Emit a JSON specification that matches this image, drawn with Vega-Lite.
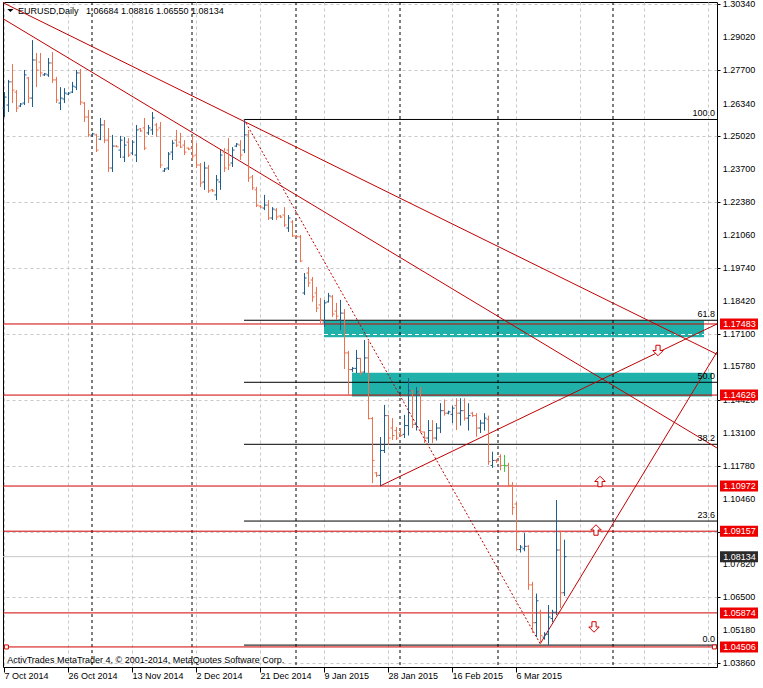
{
"$schema": "https://vega.github.io/schema/vega-lite/v6.json",
"width": 714, "height": 665,
"autosize": {"type": "none"},
"padding": {"left": 3, "top": 2, "right": 46, "bottom": 21},
"background": "white",
"config": {"view": {"stroke": "#000", "strokeWidth": 1}, "font": "Liberation Sans", "axis": {"labelOverlap": false, "labelSeparation": 0}},
"datasets": {
"one": [{}],
"yticks": [{"v":1.3034},{"v":1.2902},{"v":1.277},{"v":1.2634},{"v":1.2502},{"v":1.237},{"v":1.2238},{"v":1.2106},{"v":1.1974},{"v":1.1842},{"v":1.171},{"v":1.1578},{"v":1.1442},{"v":1.131},{"v":1.1178},{"v":1.1046},{"v":1.0914},{"v":1.0782},{"v":1.065},{"v":1.0518},{"v":1.0386}],
"zones": [{"x1": 80, "x2": 175, "p1": 1.17615, "p2": 1.16948}, {"x1": 87, "x2": 177, "p1": 1.15525, "p2": 1.14569}],
"seps": [{"i": 22}, {"i": 47}, {"i": 73}, {"i": 99}, {"i": 123.5}, {"i": 152.25}],
"levels": [{"p": 1.17483}, {"p": 1.14626}, {"p": 1.10972}, {"p": 1.09157}, {"p": 1.05874}, {"p": 1.04506}],
"fib": [{"lvl": "100.0", "p": 1.2570}, {"lvl": "61.8", "p": 1.17632}, {"lvl": "50.0", "p": 1.1514}, {"lvl": "38.2", "p": 1.12648}, {"lvl": "23.6", "p": 1.09564}, {"lvl": "0.0", "p": 1.0458}],
"trend": [{"i1": -0.25, "p1": 1.30392, "i2": 178.25, "p2": 1.16265}, {"i1": -0.25, "p1": 1.29749, "i2": 178.25, "p2": 1.12500}, {"i1": 94, "p1": 1.10972, "i2": 178.25, "p2": 1.17483}, {"i1": 134, "p1": 1.0462, "i2": 178.25, "p2": 1.1636}],
"arrows": [{"i": 149, "p": 1.11154, "d": "up"}, {"i": 148, "p": 1.09205, "d": "up"}, {"i": 163.5, "p": 1.16417, "d": "down"}, {"i": 147.5, "p": 1.05308, "d": "down"}],
"ends": [{"i": 0.6}, {"i": 177.6}],
"bars": [
{"i":0,"o":1.2616,"h":1.2680,"l":1.2580,"c":1.2660},
{"i":1,"o":1.2628,"h":1.2729,"l":1.2600,"c":1.2721},
{"i":2,"o":1.2721,"h":1.2793,"l":1.2636,"c":1.2688},
{"i":3,"o":1.2680,"h":1.2688,"l":1.2600,"c":1.2616},
{"i":4,"o":1.2624,"h":1.2636,"l":1.2620,"c":1.2632},
{"i":5,"o":1.2636,"h":1.2769,"l":1.2628,"c":1.2749},
{"i":6,"o":1.2737,"h":1.2741,"l":1.2636,"c":1.2656},
{"i":7,"o":1.2656,"h":1.2889,"l":1.2620,"c":1.2809},
{"i":8,"o":1.2809,"h":1.2837,"l":1.2700,"c":1.2769},
{"i":9,"o":1.2801,"h":1.2837,"l":1.2741,"c":1.2757},
{"i":10,"o":1.2749,"h":1.2757,"l":1.2745,"c":1.2753},
{"i":11,"o":1.2749,"h":1.2817,"l":1.2741,"c":1.2797},
{"i":12,"o":1.2797,"h":1.2841,"l":1.2717,"c":1.2729},
{"i":13,"o":1.2729,"h":1.2741,"l":1.2636,"c":1.2648},
{"i":14,"o":1.2636,"h":1.2700,"l":1.2608,"c":1.2656},
{"i":15,"o":1.2652,"h":1.2696,"l":1.2636,"c":1.2676},
{"i":16,"o":1.2672,"h":1.2680,"l":1.2668,"c":1.2676},
{"i":17,"o":1.2680,"h":1.2721,"l":1.2676,"c":1.2704},
{"i":18,"o":1.2700,"h":1.2769,"l":1.2688,"c":1.2757},
{"i":19,"o":1.2757,"h":1.2773,"l":1.2628,"c":1.2640},
{"i":20,"o":1.2636,"h":1.2640,"l":1.2560,"c":1.2580},
{"i":21,"o":1.2580,"h":1.2608,"l":1.2500,"c":1.2508},
{"i":22,"o":1.2504,"h":1.2516,"l":1.2500,"c":1.2512},
{"i":23,"o":1.2508,"h":1.2512,"l":1.2439,"c":1.2447},
{"i":24,"o":1.2491,"h":1.2576,"l":1.2487,"c":1.2548},
{"i":25,"o":1.2548,"h":1.2568,"l":1.2475,"c":1.2487},
{"i":26,"o":1.2487,"h":1.2536,"l":1.2359,"c":1.2375},
{"i":27,"o":1.2375,"h":1.2508,"l":1.2359,"c":1.2463},
{"i":28,"o":1.2463,"h":1.2467,"l":1.2459,"c":1.2460},
{"i":29,"o":1.2447,"h":1.2504,"l":1.2415,"c":1.2487},
{"i":30,"o":1.2419,"h":1.2500,"l":1.2399,"c":1.2467},
{"i":31,"o":1.2479,"h":1.2495,"l":1.2419,"c":1.2427},
{"i":32,"o":1.2435,"h":1.2487,"l":1.2427,"c":1.2479},
{"i":33,"o":1.2427,"h":1.2548,"l":1.2399,"c":1.2528},
{"i":34,"o":1.2532,"h":1.2536,"l":1.2520,"c":1.2524},
{"i":35,"o":1.2536,"h":1.2576,"l":1.2447,"c":1.2455},
{"i":36,"o":1.2516,"h":1.2548,"l":1.2508,"c":1.2536},
{"i":37,"o":1.2528,"h":1.2600,"l":1.2508,"c":1.2576},
{"i":38,"o":1.2548,"h":1.2556,"l":1.2500,"c":1.2528},
{"i":39,"o":1.2536,"h":1.2560,"l":1.2375,"c":1.2387},
{"i":40,"o":1.2363,"h":1.2375,"l":1.2359,"c":1.2371},
{"i":41,"o":1.2375,"h":1.2439,"l":1.2367,"c":1.2431},
{"i":42,"o":1.2439,"h":1.2487,"l":1.2407,"c":1.2475},
{"i":43,"o":1.2487,"h":1.2528,"l":1.2459,"c":1.2467},
{"i":44,"o":1.2479,"h":1.2516,"l":1.2455,"c":1.2459},
{"i":45,"o":1.2467,"h":1.2487,"l":1.2427,"c":1.2439},
{"i":46,"o":1.2455,"h":1.2457,"l":1.2447,"c":1.2451},
{"i":47,"o":1.2455,"h":1.2508,"l":1.2407,"c":1.2423},
{"i":48,"o":1.2427,"h":1.2475,"l":1.2375,"c":1.2387},
{"i":49,"o":1.2387,"h":1.2395,"l":1.2299,"c":1.2315},
{"i":50,"o":1.2319,"h":1.2400,"l":1.2287,"c":1.2375},
{"i":51,"o":1.2375,"h":1.2387,"l":1.2275,"c":1.2283},
{"i":52,"o":1.2287,"h":1.2291,"l":1.2279,"c":1.2283},
{"i":53,"o":1.2267,"h":1.2347,"l":1.2246,"c":1.2327},
{"i":54,"o":1.2319,"h":1.2447,"l":1.2287,"c":1.2427},
{"i":55,"o":1.2439,"h":1.2455,"l":1.2359,"c":1.2375},
{"i":56,"o":1.2447,"h":1.2495,"l":1.2367,"c":1.2387},
{"i":57,"o":1.2395,"h":1.2459,"l":1.2379,"c":1.2447},
{"i":58,"o":1.2463,"h":1.2475,"l":1.2459,"c":1.2471},
{"i":59,"o":1.2467,"h":1.2487,"l":1.2407,"c":1.2427},
{"i":60,"o":1.2447,"h":1.2570,"l":1.2435,"c":1.2508},
{"i":61,"o":1.2508,"h":1.2528,"l":1.2319,"c":1.2335},
{"i":62,"o":1.2339,"h":1.2347,"l":1.2287,"c":1.2295},
{"i":63,"o":1.2287,"h":1.2299,"l":1.2218,"c":1.2226},
{"i":64,"o":1.2222,"h":1.2226,"l":1.2214,"c":1.2218},
{"i":65,"o":1.2214,"h":1.2267,"l":1.2206,"c":1.2226},
{"i":66,"o":1.2226,"h":1.2246,"l":1.2166,"c":1.2174},
{"i":67,"o":1.2174,"h":1.2218,"l":1.2166,"c":1.2210},
{"i":68,"o":1.2206,"h":1.2214,"l":1.2166,"c":1.2178},
{"i":69,"o":1.2182,"h":1.2186,"l":1.2174,"c":1.2178},
{"i":70,"o":1.2186,"h":1.2218,"l":1.2138,"c":1.2146},
{"i":71,"o":1.2134,"h":1.2186,"l":1.2118,"c":1.2174},
{"i":72,"o":1.2158,"h":1.2166,"l":1.2098,"c":1.2102},
{"i":73,"o":1.2102,"h":1.2106,"l":1.2097,"c":1.2099},
{"i":74,"o":1.2098,"h":1.2106,"l":1.1997,"c":1.2001},
{"i":75,"o":1.1873,"h":1.1953,"l":1.1865,"c":1.1933},
{"i":76,"o":1.1953,"h":1.1977,"l":1.1897,"c":1.1913},
{"i":77,"o":1.1925,"h":1.1937,"l":1.1837,"c":1.1857},
{"i":78,"o":1.1873,"h":1.1897,"l":1.1796,"c":1.1812},
{"i":79,"o":1.1825,"h":1.1853,"l":1.1752,"c":1.1764},
{"i":80,"o":1.1756,"h":1.1845,"l":1.1736,"c":1.1833},
{"i":81,"o":1.1837,"h":1.1873,"l":1.1835,"c":1.1861},
{"i":82,"o":1.1857,"h":1.1865,"l":1.1776,"c":1.1788},
{"i":83,"o":1.1800,"h":1.1833,"l":1.1764,"c":1.1780},
{"i":84,"o":1.1764,"h":1.1845,"l":1.1724,"c":1.1792},
{"i":85,"o":1.1792,"h":1.1808,"l":1.1567,"c":1.1632},
{"i":86,"o":1.1632,"h":1.1640,"l":1.1460,"c":1.1565},
{"i":87,"o":1.1565,"h":1.1575,"l":1.1555,"c":1.1570},
{"i":88,"o":1.1570,"h":1.1644,"l":1.1551,"c":1.1610},
{"i":89,"o":1.1610,"h":1.1612,"l":1.1543,"c":1.1555},
{"i":90,"o":1.1555,"h":1.1684,"l":1.1551,"c":1.1612},
{"i":91,"o":1.1612,"h":1.1680,"l":1.1365,"c":1.1368},
{"i":92,"o":1.1368,"h":1.1375,"l":1.1109,"c":1.1200},
{"i":93,"o":1.1150,"h":1.1154,"l":1.1133,"c":1.1140},
{"i":94,"o":1.1140,"h":1.1294,"l":1.1098,"c":1.1240},
{"i":95,"o":1.1240,"h":1.1423,"l":1.1230,"c":1.1380},
{"i":96,"o":1.1380,"h":1.1383,"l":1.1262,"c":1.1290},
{"i":97,"o":1.1330,"h":1.1370,"l":1.1282,"c":1.1300},
{"i":98,"o":1.1320,"h":1.1334,"l":1.1282,"c":1.1290},
{"i":99,"o":1.1310,"h":1.1330,"l":1.1294,"c":1.1300},
{"i":100,"o":1.1305,"h":1.1383,"l":1.1290,"c":1.1340},
{"i":101,"o":1.1340,"h":1.1531,"l":1.1300,"c":1.1480},
{"i":102,"o":1.1480,"h":1.1483,"l":1.1330,"c":1.1345},
{"i":103,"o":1.1345,"h":1.1495,"l":1.1320,"c":1.1475},
{"i":104,"o":1.1475,"h":1.1495,"l":1.1310,"c":1.1315},
{"i":105,"o":1.1314,"h":1.1316,"l":1.1270,"c":1.1290},
{"i":106,"o":1.1290,"h":1.1362,"l":1.1270,"c":1.1320},
{"i":107,"o":1.1320,"h":1.1362,"l":1.1270,"c":1.1290},
{"i":108,"o":1.1290,"h":1.1350,"l":1.1280,"c":1.1330},
{"i":109,"o":1.1330,"h":1.1430,"l":1.1310,"c":1.1400},
{"i":110,"o":1.1400,"h":1.1445,"l":1.1380,"c":1.1390},
{"i":111,"o":1.1390,"h":1.1400,"l":1.1385,"c":1.1395},
{"i":112,"o":1.1385,"h":1.1420,"l":1.1350,"c":1.1410},
{"i":113,"o":1.1420,"h":1.1450,"l":1.1322,"c":1.1390},
{"i":114,"o":1.1390,"h":1.1450,"l":1.1340,"c":1.1400},
{"i":115,"o":1.1400,"h":1.1450,"l":1.1360,"c":1.1370},
{"i":116,"o":1.1370,"h":1.1430,"l":1.1320,"c":1.1380},
{"i":117,"o":1.1390,"h":1.1395,"l":1.1375,"c":1.1380},
{"i":118,"o":1.1380,"h":1.1390,"l":1.1295,"c":1.1330},
{"i":119,"o":1.1330,"h":1.1363,"l":1.1310,"c":1.1350},
{"i":120,"o":1.1350,"h":1.1390,"l":1.1320,"c":1.1370},
{"i":121,"o":1.1365,"h":1.1380,"l":1.1182,"c":1.1195},
{"i":122,"o":1.1180,"h":1.1235,"l":1.1170,"c":1.1200},
{"i":123,"o":1.1200,"h":1.1205,"l":1.1190,"c":1.1198},
{"i":124,"o":1.1215,"h":1.1225,"l":1.1160,"c":1.1180},
{"i":125,"o":1.1180,"h":1.1222,"l":1.1154,"c":1.1180},
{"i":126,"o":1.1180,"h":1.1190,"l":1.1093,"c":1.1100},
{"i":127,"o":1.1100,"h":1.1113,"l":1.0981,"c":1.1010},
{"i":128,"o":1.1025,"h":1.1033,"l":1.0838,"c":1.0842},
{"i":129,"o":1.0842,"h":1.0860,"l":1.0830,"c":1.0852},
{"i":130,"o":1.0845,"h":1.0908,"l":1.0835,"c":1.0855},
{"i":131,"o":1.0855,"h":1.0860,"l":1.0680,"c":1.0700},
{"i":132,"o":1.0700,"h":1.0712,"l":1.0507,"c":1.0548},
{"i":133,"o":1.0548,"h":1.0665,"l":1.0490,"c":1.0636},
{"i":134,"o":1.0590,"h":1.0600,"l":1.0462,"c":1.0496},
{"i":135,"o":1.0490,"h":1.0510,"l":1.0480,"c":1.0502},
{"i":136,"o":1.0502,"h":1.0619,"l":1.0458,"c":1.0571},
{"i":137,"o":1.0565,"h":1.0600,"l":1.0550,"c":1.0590},
{"i":138,"o":1.0590,"h":1.1041,"l":1.0579,"c":1.0840},
{"i":139,"o":1.0840,"h":1.0915,"l":1.0607,"c":1.0668},
{"i":140,"o":1.06684,"h":1.08816,"l":1.06550,"c":1.08134}
]
},
"layer": [
{"data": {"name": "zones"}, "mark": {"type": "rect", "color": "#20b2aa"},
 "encoding": {
  "x": {"field": "x1", "type": "quantitative", "scale": {"domain": [-0.25, 178.25], "nice": false, "zero": false},
   "axis": {"orient": "bottom", "values": [0,8,16,24,32,40,48,56,64,72,80,88,96,104,112,120,128,136,144,152,160,168,176], "grid": true, "gridColor": "#c8c8c8", "gridDash": [3,3], "domain": false, "tickColor": "#000", "tickSize": 5,
    "tickOpacity": {"condition": {"test": "datum.value % 16 === 0 && datum.value <= 128", "value": 1}, "value": 0},
    "labelExpr": "datum.value % 16 === 0 ? (['7 Oct 2014','26 Oct 2014','13 Nov 2014','2 Dec 2014','21 Dec 2014','9 Jan 2015','28 Jan 2015','16 Feb 2015','6 Mar 2015'][datum.value / 16] || '') : ''",
    "labelAlign": "left", "labelBaseline": "top", "labelPadding": -1, "labelDx": 2, "labelFont": "Liberation Sans", "labelFontSize": 9, "labelColor": "#000", "labelOverlap": false, "labelFlush": false, "labelBound": false, "title": null}},
  "x2": {"field": "x2"},
  "y": {"field": "p1", "type": "quantitative", "scale": {"domain": [1.037, 1.3042], "nice": false, "zero": false},
   "axis": {"orient": "right", "values": [1.3034,1.2902,1.277,1.2634,1.2502,1.237,1.2238,1.2106,1.1974,1.1842,1.171,1.1578,1.1442,1.131,1.1178,1.1046,1.0914,1.0782,1.065,1.0518,1.0386], "grid": true, "gridColor": "#c8c8c8", "gridDash": [3,3], "domain": false, "tickColor": "#000", "tickSize": 3, "labels": false, "title": null}},
  "y2": {"field": "p2"}}},
{"data": {"name": "one"}, "mark": {"type": "rule", "color": "#ffffff", "strokeDash": [4,3], "strokeWidth": 1},
 "encoding": {"x": {"datum": 80}, "x2": {"datum": 175}, "y": {"datum": 1.1706}}},
{"data": {"name": "seps"}, "mark": {"type": "rule", "color": "#000", "strokeDash": [3,3], "strokeWidth": 1},
 "encoding": {"x": {"field": "i", "type": "quantitative"}}},
{"data": {"name": "one"}, "mark": {"type": "rule", "color": "#c8c8c8", "strokeWidth": 1},
 "encoding": {"y": {"datum": 1.08134}}},
{"data": {"name": "fib"}, "mark": {"type": "rule", "color": "#000", "strokeWidth": 1},
 "encoding": {"x": {"datum": 60}, "x2": {"datum": 178.25}, "y": {"field": "p", "type": "quantitative"}}},
{"data": {"name": "levels"}, "mark": {"type": "rule", "color": "#d00000", "strokeWidth": 1},
 "encoding": {"y": {"field": "p", "type": "quantitative"}}},
{"data": {"name": "trend"}, "mark": {"type": "rule", "color": "#c00000", "strokeWidth": 1},
 "encoding": {"x": {"field": "i1", "type": "quantitative"}, "x2": {"field": "i2"}, "y": {"field": "p1", "type": "quantitative"}, "y2": {"field": "p2"}}},
{"data": {"name": "one"}, "mark": {"type": "rule", "color": "#c00000", "strokeDash": [2,2], "strokeWidth": 1},
 "encoding": {"x": {"datum": 60}, "x2": {"datum": 134.25}, "y": {"datum": 1.2570}, "y2": {"datum": 1.0458}}},
{"data": {"name": "bars"},
 "transform": [{"calculate": "datum.c > datum.o ? 'up' : (datum.c < datum.o ? 'down' : 'flat')", "as": "dir"}],
 "layer": [
  {"mark": {"type": "rule", "strokeWidth": 1, "xOffset": 0.5},
   "encoding": {"x": {"field": "i", "type": "quantitative"}, "y": {"field": "l", "type": "quantitative"}, "y2": {"field": "h"},
    "color": {"field": "dir", "type": "nominal", "scale": {"domain": ["up", "down", "flat"], "range": ["#1f5d8c", "#eb7250", "#2ecc40"]}, "legend": null}}},
  {"mark": {"type": "rule", "strokeWidth": 1, "xOffset": -1.5, "x2Offset": 0.5},
   "encoding": {"x": {"field": "i", "type": "quantitative"}, "x2": {"field": "i"}, "y": {"field": "o", "type": "quantitative"},
    "color": {"field": "dir", "type": "nominal", "legend": null}}},
  {"mark": {"type": "rule", "strokeWidth": 1, "xOffset": 0.5, "x2Offset": 2.5},
   "encoding": {"x": {"field": "i", "type": "quantitative"}, "x2": {"field": "i"}, "y": {"field": "c", "type": "quantitative"},
    "color": {"field": "dir", "type": "nominal", "legend": null}}}
 ]},
{"data": {"name": "arrows"}, "mark": {"type": "point", "filled": true, "fill": "#ffffff", "stroke": "#d00000", "strokeWidth": 1, "opacity": 1, "size": 110},
 "encoding": {"x": {"field": "i", "type": "quantitative"}, "y": {"field": "p", "type": "quantitative"},
  "shape": {"field": "d", "type": "nominal", "scale": {"domain": ["up", "down"], "range": ["M0,-1L1,0L0.4,0L0.4,1L-0.4,1L-0.4,0L-1,0Z", "M0,1L1,0L0.4,0L0.4,-1L-0.4,-1L-0.4,0L-1,0Z"]}, "legend": null}}},
{"data": {"name": "ends"}, "mark": {"type": "point", "shape": "square", "filled": true, "fill": "#ffffff", "stroke": "#d00000", "strokeWidth": 1, "opacity": 1, "size": 16},
 "encoding": {"x": {"field": "i", "type": "quantitative"}, "y": {"datum": 1.04506}}},
{"data": {"name": "fib"}, "mark": {"type": "text", "align": "right", "baseline": "bottom", "dy": -1, "font": "Liberation Sans", "fontSize": 9, "color": "#000"},
 "encoding": {"x": {"datum": 177.75}, "y": {"field": "p", "type": "quantitative"}, "text": {"field": "lvl"}}},
{"data": {"name": "one"}, "mark": {"type": "point", "shape": "M-1,-0.5L1,-0.5L0,0.5Z", "filled": true, "color": "#000", "opacity": 1, "size": 40},
 "encoding": {"x": {"datum": 1.6}, "y": {"datum": 1.3008}}},
{"data": {"name": "one"}, "mark": {"type": "text", "align": "left", "baseline": "middle", "font": "Liberation Sans", "fontSize": 9, "color": "#000"},
 "encoding": {"x": {"datum": 3.5}, "y": {"datum": 1.3007}, "text": {"value": "EURUSD,Daily\u00a0\u00a0\u00a01.06684 1.08816 1.06550 1.08134"}}},
{"data": {"name": "one"}, "mark": {"type": "text", "align": "left", "baseline": "middle", "font": "Liberation Sans", "fontSize": 9, "color": "#000"},
 "encoding": {"x": {"datum": 0.8}, "y": {"datum": 1.0398}, "text": {"value": "ActivTrades MetaTrader 4, © 2001-2014, MetaQuotes Software Corp."}}},
{"data": {"name": "yticks"}, "mark": {"type": "text", "align": "left", "baseline": "middle", "font": "Liberation Sans", "fontSize": 9, "color": "#000"},
 "encoding": {"x": {"datum": 179.7}, "y": {"field": "v", "type": "quantitative"}, "text": {"field": "v", "type": "quantitative", "format": ".5f"}}},
{"data": {"name": "levels"}, "mark": {"type": "rect", "color": "#ee0000", "yOffset": -5.5, "y2Offset": 5.5},
 "encoding": {"x": {"datum": 179}, "x2": {"datum": 188.5}, "y": {"field": "p", "type": "quantitative"}, "y2": {"field": "p"}}},
{"data": {"name": "levels"}, "mark": {"type": "text", "align": "left", "baseline": "middle", "font": "Liberation Sans", "fontSize": 9, "color": "#ffffff"},
 "encoding": {"x": {"datum": 179.8}, "y": {"field": "p", "type": "quantitative"}, "text": {"field": "p", "type": "quantitative", "format": ".5f"}}},
{"data": {"name": "one"}, "mark": {"type": "rect", "color": "#2b2b2b", "yOffset": -5.5, "y2Offset": 5.5},
 "encoding": {"x": {"datum": 179}, "x2": {"datum": 188.5}, "y": {"datum": 1.08134}, "y2": {"datum": 1.08134}}},
{"data": {"name": "one"}, "mark": {"type": "text", "align": "left", "baseline": "middle", "font": "Liberation Sans", "fontSize": 9, "color": "#ffffff"},
 "encoding": {"x": {"datum": 179.8}, "y": {"datum": 1.08134}, "text": {"value": "1.08134"}}}
]
}
